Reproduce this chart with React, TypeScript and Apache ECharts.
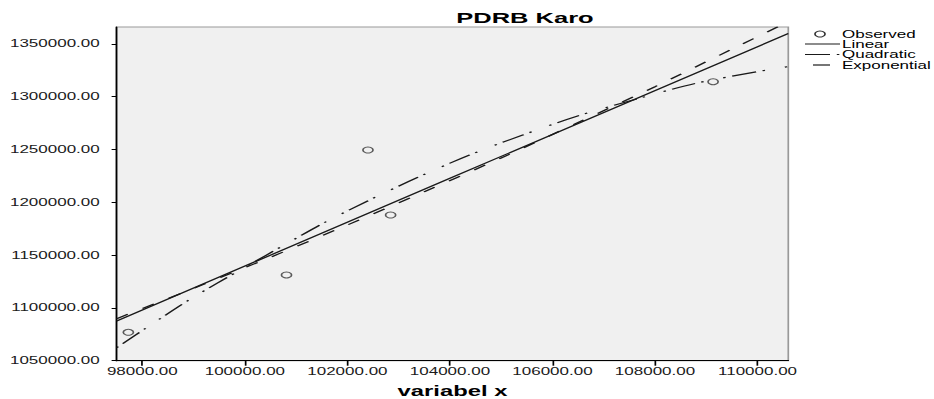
import React, { useEffect, useRef } from "react";
import * as echarts from "echarts";

// ---- data ----
const titleText = "PDRB Karo";
const xAxisName = "variabel x";
const xTicks = [98000, 100000, 102000, 104000, 106000, 108000, 110000];
const yTicks = [1050000, 1100000, 1150000, 1200000, 1250000, 1300000, 1350000];
const legendNames = ["Observed", "Linear", "Quadratic", "Exponential"];

const observedX = [97727, 100812, 102401, 102843, 109133];
const observedY = [1076900, 1131200, 1249500, 1188000, 1314200];

const linearX = [97500, 104000, 110600];
const linearY = [1087600, 1222700, 1359800];

const quadraticX = [97501, 98183, 98962, 99967, 100876, 101525, 102434, 103375, 104382, 105420, 106491, 107692, 108796, 109996, 110580];
const quadraticY = [1062300, 1084500, 1109100, 1137500, 1162500, 1180100, 1202200, 1223700, 1244800, 1263700, 1281700, 1298500, 1312700, 1323700, 1328400];

const exponentialX = [97500, 99000, 100500, 102000, 103500, 105000, 106500, 108000, 109500, 110600];
const exponentialY = [1089800, 1118600, 1148000, 1178500, 1210000, 1242000, 1275500, 1309500, 1345000, 1371000];

// ---- layout ----
const STRETCH = 1.7;
const PAGE_W = 934;
const H = 399;
const W = PAGE_W / STRETCH;
const FONT = "'Liberation Sans', Arial, sans-serif";
const INK = "#1a1a1a";

const quadDash = [1.5, 4, 14.7, 4, 1.5, 12];
const expDash = [8, 10.4];

function pairs(xs: number[], ys: number[]) {
  return xs.map((x, i) => [x, ys[i]]);
}

export default function App() {
  const ref = useRef<HTMLDivElement>(null);
  useEffect(() => {
    if (!ref.current) return;
    const chart = echarts.init(ref.current, null, { renderer: "svg" });
    const px = (p: number) => p / STRETCH;
    const legendX = px(842);
    const rows = [34, 44, 54.5, 65];
    const option: any = {
      animation: false,
      textStyle: { fontFamily: FONT },
      grid: {
        left: px(116.7),
        right: W - px(789),
        top: 27,
        bottom: H - 360.7,
        containLabel: false,
        outerBoundsMode: "none",
        show: true,
        backgroundColor: "#f0f0f0",
        borderColor: "#999",
        borderWidth: 1,
      },
      xAxis: {
        type: "value",
        min: 97500,
        max: 110600,
        name: xAxisName,
        nameLocation: "middle",
        nameGap: 23.5,
        nameTextStyle: { fontFamily: FONT, fontSize: 14, lineHeight: 14, fontWeight: "bold", color: "#000" },
        axisLine: { show: true, onZero: false, lineStyle: { color: "#000", width: 1 } },
        axisTick: { show: true, length: 5, customValues: xTicks, lineStyle: { color: "#000" } },
        axisLabel: {
          customValues: xTicks,
          margin: 6,
          fontSize: 10,
          fontFamily: FONT,
          color: INK,
          formatter: (v: number) => v.toFixed(2),
        },
        splitLine: { show: false },
      },
      yAxis: {
        type: "value",
        min: 1050000,
        max: 1366000,
        interval: 50000,
        axisLine: { show: true, onZero: false, lineStyle: { color: "#000", width: 1 } },
        axisTick: { show: true, length: 3, customValues: yTicks, lineStyle: { color: "#000" } },
        axisLabel: {
          customValues: yTicks,
          margin: 10,
          fontSize: 10,
          fontFamily: FONT,
          color: INK,
          formatter: (v: number) => v.toFixed(2),
        },
        splitLine: { show: false },
      },
      series: [
        {
          name: legendNames[0],
          type: "scatter",
          data: pairs(observedX, observedY),
          symbol: "circle",
          symbolSize: 6,
          itemStyle: { color: "transparent", borderColor: "#333", borderWidth: 1 },
          z: 3,
        },
        {
          name: legendNames[1],
          type: "line",
          data: pairs(linearX, linearY),
          showSymbol: false,
          lineStyle: { color: INK, width: 1.2 },
        },
        {
          name: legendNames[2],
          type: "line",
          data: pairs(quadraticX, quadraticY),
          showSymbol: false,
          smooth: 0.3,
          lineStyle: { color: INK, width: 1.2, type: quadDash },
        },
        {
          name: legendNames[3],
          type: "line",
          data: pairs(exponentialX, exponentialY),
          showSymbol: false,
          smooth: 0.3,
          clip: true,
          lineStyle: { color: INK, width: 1.2, type: expDash },
        },
      ],
      graphic: [
        {
          type: "text",
          x: px(525),
          y: 17.5,
          style: {
            text: titleText,
            fontSize: 15,
            fontWeight: "bold",
            fontFamily: FONT,
            fill: "#000",
            align: "center",
            textAlign: "center",
            verticalAlign: "middle",
            textVerticalAlign: "middle",
          },
        },
        {
          type: "circle",
          shape: { cx: px(820), cy: rows[0], r: 3 },
          style: { fill: "none", stroke: "#333", lineWidth: 1 },
        },
        {
          type: "line",
          shape: { x1: px(805), y1: rows[1], x2: px(840), y2: rows[1] },
          style: { stroke: INK, lineWidth: 1.2 },
        },
        {
          type: "line",
          shape: { x1: px(805), y1: rows[2], x2: px(840), y2: rows[2] },
          style: { stroke: INK, lineWidth: 1.2, lineDash: [14.7, 4, 1.5, 4] },
        },
        {
          type: "line",
          shape: { x1: px(813), y1: rows[3], x2: px(830), y2: rows[3] },
          style: { stroke: INK, lineWidth: 1.2 },
        },
        ...legendNames.map((n, i) => ({
          type: "text",
          x: legendX,
          y: rows[i],
          style: {
            text: n,
            fontSize: 10,
            fontFamily: FONT,
            fill: "#000",
            align: "left",
            textAlign: "left",
            verticalAlign: "middle",
            textVerticalAlign: "middle",
          },
        })),
      ],
    };
    chart.setOption(option);
    return () => chart.dispose();
  }, []);
  return (
    <div
      ref={ref}
      style={{
        position: "absolute",
        left: 0,
        top: 0,
        width: W,
        height: H,
        transform: `scaleX(${STRETCH})`,
        transformOrigin: "0 0",
      }}
    />
  );
}
